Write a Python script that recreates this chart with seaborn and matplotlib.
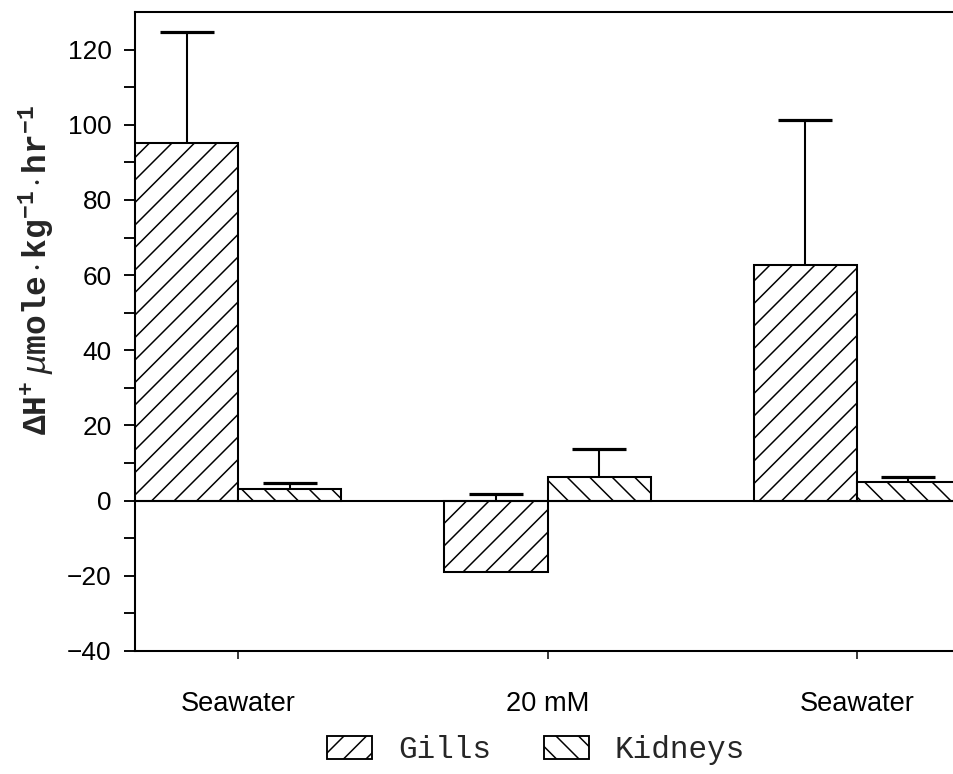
import matplotlib
matplotlib.use('Agg')
import matplotlib.pyplot as plt
import seaborn as sns
import pandas as pd
import numpy as np
from matplotlib.patches import Patch

# ---- data ----
groups = ['SW_a', 'NaCl_20', 'SW_b']
tick_labels = ['Seawater', '20 mM', 'Seawater']
tissues = ['Gills', 'Kidneys']
gills_mean = [95.1, -18.9, 62.7]
gills_err = [29.5, 20.8, 38.5]
kidneys_mean = [3.2, 6.4, 5.0]
kidneys_err = [1.6, 7.4, 1.4]
hatches = ['//', '\\\\']

df = pd.DataFrame({
    'group': groups * 2,
    'tissue': ['Gills'] * 3 + ['Kidneys'] * 3,
    'value': gills_mean + kidneys_mean,
})

sns.set_style('ticks')
plt.rcParams['font.family'] = ['Liberation Sans', 'DejaVu Sans']
plt.rcParams['hatch.linewidth'] = 0.8
plt.rcParams['mathtext.fontset'] = 'custom'
plt.rcParams['mathtext.rm'] = 'Liberation Mono'
plt.rcParams['mathtext.it'] = 'Liberation Mono:italic'
plt.rcParams['mathtext.bf'] = 'Liberation Mono:bold'

DPI = 135
fig = plt.figure(figsize=(953 / DPI, 774 / DPI), dpi=DPI)
ax = fig.add_axes([135 / 953, 123 / 774, 825 / 953, 639 / 774])

sns.barplot(data=df, x='group', y='value', hue='tissue', order=groups,
            hue_order=tissues, palette={'Gills': 'white', 'Kidneys': 'white'},
            saturation=1, edgecolor='black', linewidth=1.1, width=0.6667,
            errorbar=None, legend=False, ax=ax)

bar_containers = list(ax.containers)
errs = [gills_err, kidneys_err]
means = [gills_mean, kidneys_mean]
for ci, cont in enumerate(bar_containers):
    xs = []
    for bar in cont.patches:
        bar.set_hatch(hatches[ci])
        bar.set_zorder(3)
        xs.append(bar.get_x() + bar.get_width() / 2)
    _, caplines, _ = ax.errorbar(xs, means[ci], yerr=[[0] * len(xs), errs[ci]],
                                 fmt='none', ecolor='black', elinewidth=1.1,
                                 capsize=14.5, capthick=1.7, zorder=2)
    # keep only the upper caps
    for cl in caplines:
        if np.allclose(np.asarray(cl.get_ydata(), float), means[ci]):
            cl.set_visible(False)

ax.axhline(0, color='black', lw=1.1, zorder=4)

ax.set_xlim(-1 / 3, 7 / 3)
ax.set_ylim(-40, 130)
ax.set_yticks(range(-40, 121, 20))
ax.set_yticks(range(-30, 121, 20), minor=True)
ax.set_xticks(range(3))
ax.set_xticklabels(tick_labels)
ax.tick_params(axis='y', which='both', length=5.9, width=1.0, pad=6.5,
               labelsize=14, color='black', labelcolor='black')
ax.tick_params(axis='x', length=4.3, width=0.8, pad=17, labelsize=14.5,
               color='black', labelcolor='black')
for s in ['left', 'bottom', 'top', 'right']:
    ax.spines[s].set_visible(True)
    ax.spines[s].set_color('black')
    ax.spines[s].set_linewidth(1.1)

ax.set_xlabel('')
ax.set_ylabel(r'$\mathbf{\Delta H^{+}}\ \mathit{\mu}\mathbf{mole\cdot kg^{-1}\cdot hr^{-1}}$',
              fontsize=17.5)
ax.yaxis.set_label_coords(-0.094, 0.596)

handles = [Patch(facecolor='white', edgecolor='black', hatch=h, linewidth=1.0)
           for h in hatches]
fig.legend(handles, tissues, loc='center', bbox_to_anchor=(536 / 953, 1 - 750 / 774),
           ncol=2, frameon=False, handlelength=1.45, handleheight=0.75,
           handletextpad=0.85, columnspacing=1.7,
           prop={'family': 'Liberation Mono', 'size': 16.5})

fig.savefig('out.png', dpi=DPI, facecolor='white')
